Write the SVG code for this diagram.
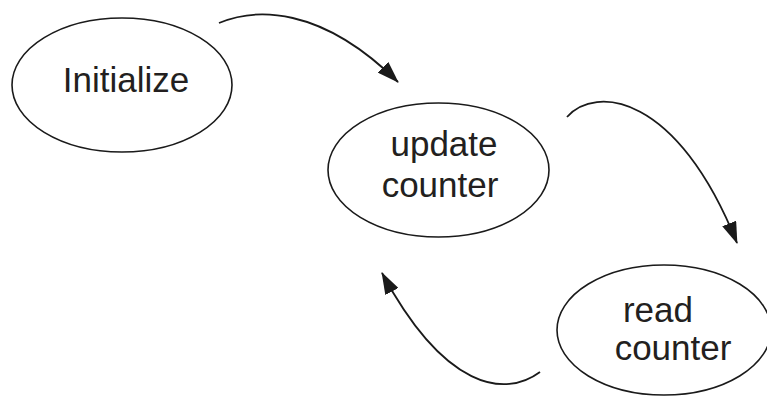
<svg xmlns="http://www.w3.org/2000/svg" width="767" height="396" viewBox="0 0 767 396">
  <style>
    .node ellipse { fill: #ffffff; stroke: #1a1a1a; stroke-width: 1.6; }
    .node text { font-family: "Liberation Sans", Arial, sans-serif; font-size: 35px; fill: #231f20; text-anchor: middle; }
    .edge { fill: none; stroke: #1a1a1a; stroke-width: 1.8; marker-end: url(#head); }
  </style>
  <defs>
    <marker id="head" viewBox="0 0 22 15" refX="21" refY="7.5" markerWidth="22" markerHeight="15" markerUnits="userSpaceOnUse" orient="auto">
      <path d="M0,0 L22,7.5 L0,15 Z" fill="#1a1a1a"/>
    </marker>
  </defs>
  <rect width="767" height="396" fill="#ffffff"/>

  <g id="initialize" class="node">
    <ellipse cx="122" cy="85" rx="110" ry="67"/>
    <text x="126" y="92">Initialize</text>
  </g>

  <g id="update-counter" class="node">
    <ellipse cx="438.5" cy="170" rx="110.5" ry="67"/>
    <text x="444" y="156">update</text>
    <text x="440" y="197">counter</text>
  </g>

  <g id="read-counter" class="node">
    <ellipse cx="664" cy="330" rx="107" ry="65"/>
    <text x="658" y="322">read</text>
    <text x="673" y="360">counter</text>
  </g>

  <g id="connectors">
    <path class="edge" d="M219,23 C255,8 320,5 398,82"/>
    <path class="edge" d="M567,117 C595,85 677,93 737,243"/>
    <path class="edge" d="M540,372 C505,398 445,390 382,273"/>
  </g>
</svg>
